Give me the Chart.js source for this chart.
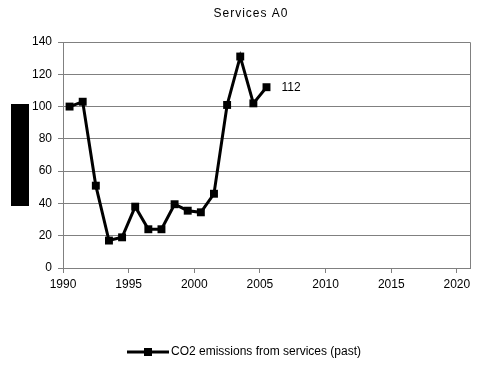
<!DOCTYPE html>
<html>
<head>
<meta charset="utf-8">
<script src="https://cdn.jsdelivr.net/npm/chart.js@4/dist/chart.umd.min.js"></script>
<style>
  html, body { margin: 0; padding: 0; background: #fff; }
  #wrap { width: 484px; height: 368px; }
</style>
</head>
<body>
<div id="wrap"><canvas id="c" width="484" height="368"></canvas></div>
<script>
// Services sector CO2 emissions, index values per year
const years = [1990, 1991, 1992, 1993, 1994, 1995, 1996, 1997, 1998, 1999, 2000, 2001, 2002, 2003, 2004, 2005];
const emissions = [100, 103, 51, 17, 19, 38, 24, 24, 39.5, 35.5, 34.5, 46, 101, 131, 102, 112];
const xTicks = [1990, 1995, 2000, 2005, 2010, 2015, 2020];
const yTicks = [0, 20, 40, 60, 80, 100, 120, 140];
const seriesLabel = 'CO2 emissions from services (past)';
const chartTitle = 'Services A0';

const FONT = 'Liberation Sans, Arial, sans-serif';
const GRID = '#808080';

// each yearly value sits in the middle of its year on the time axis
const points = years.map((y, i) => ({ x: y + 0.5, y: emissions[i] }));

const framePlugin = {
  id: 'frame',
  afterDatasetsDraw(chart) {
    const { ctx, chartArea: a } = chart;
    ctx.save();
    // top and right border of the plot area
    ctx.strokeStyle = GRID;
    ctx.lineWidth = 1;
    ctx.beginPath();
    ctx.moveTo(a.left, a.top + 0.5);
    ctx.lineTo(a.right + 0.5, a.top + 0.5);
    ctx.lineTo(a.right + 0.5, a.bottom);
    ctx.stroke();

    // chart title
    ctx.fillStyle = '#000';
    ctx.font = '12px ' + FONT;
    ctx.letterSpacing = '1px';
    ctx.textAlign = 'center';
    ctx.textBaseline = 'middle';
    ctx.fillText(chartTitle, 251, 14);
    ctx.letterSpacing = '0px';

    // value label beside the latest point
    const meta = chart.getDatasetMeta(0);
    const last = meta.data[meta.data.length - 1];
    ctx.textAlign = 'left';
    ctx.fillText(String(emissions[emissions.length - 1]), last.x + 15, last.y);

    // y-axis title block
    ctx.fillRect(11, 104, 18, 102);

    // legend: line with square marker, then the series name
    const ds = chart.data.datasets[0];
    const tw = ctx.measureText(ds.label).width;
    const lineW = 42, gap = 2;
    const total = lineW + gap + tw;
    const lx = Math.round((chart.width - total) / 2) + 2;
    const ly = 352;
    ctx.strokeStyle = ds.borderColor;
    ctx.lineWidth = 3;
    ctx.beginPath();
    ctx.moveTo(lx, ly);
    ctx.lineTo(lx + lineW, ly);
    ctx.stroke();
    ctx.fillStyle = ds.pointBackgroundColor;
    ctx.fillRect(lx + lineW / 2 - 4, ly - 4, 8, 8);
    ctx.fillStyle = '#000';
    ctx.fillText(ds.label, lx + lineW + gap, ly);
    ctx.restore();
  }
};

new Chart(document.getElementById('c'), {
  type: 'line',
  data: {
    datasets: [{
      label: seriesLabel,
      data: points,
      borderColor: '#000',
      backgroundColor: '#000',
      borderWidth: 3,
      pointStyle: 'rect',
      pointRadius: 5.6,
      pointBorderWidth: 0,
      pointBackgroundColor: '#000',
      pointBorderColor: '#000',
      tension: 0,
      fill: false
    }]
  },
  options: {
    responsive: false,
    animation: false,
    layout: { padding: { left: 0, right: 14, top: 42, bottom: 0 } },
    plugins: {
      legend: { display: false },
      tooltip: { enabled: false },
      title: { display: false }
    },
    scales: {
      x: {
        type: 'linear',
        min: 1990,
        max: 2021,
        afterBuildTicks(scale) { scale.ticks = xTicks.map(v => ({ value: v })); },
        afterFit(scale) { scale.height = 100; },
        grid: {
          drawOnChartArea: false,
          drawTicks: true,
          tickLength: 5,
          color: GRID
        },
        border: { color: GRID, width: 1 },
        ticks: {
          color: '#000',
          font: { family: FONT, size: 12 },
          padding: 4,
          maxRotation: 0,
          autoSkip: false,
          callback: v => String(v)
        }
      },
      y: {
        min: 0,
        max: 140,
        afterBuildTicks(scale) { scale.ticks = yTicks.map(v => ({ value: v })); },
        afterFit(scale) { scale.width = 63; },
        grid: {
          color: GRID,
          drawTicks: true,
          tickLength: 5
        },
        border: { color: GRID, width: 1 },
        ticks: {
          color: '#000',
          font: { family: FONT, size: 12 },
          padding: 6,
          autoSkip: false
        }
      }
    }
  },
  plugins: [framePlugin]
});
</script>
</body>
</html>
